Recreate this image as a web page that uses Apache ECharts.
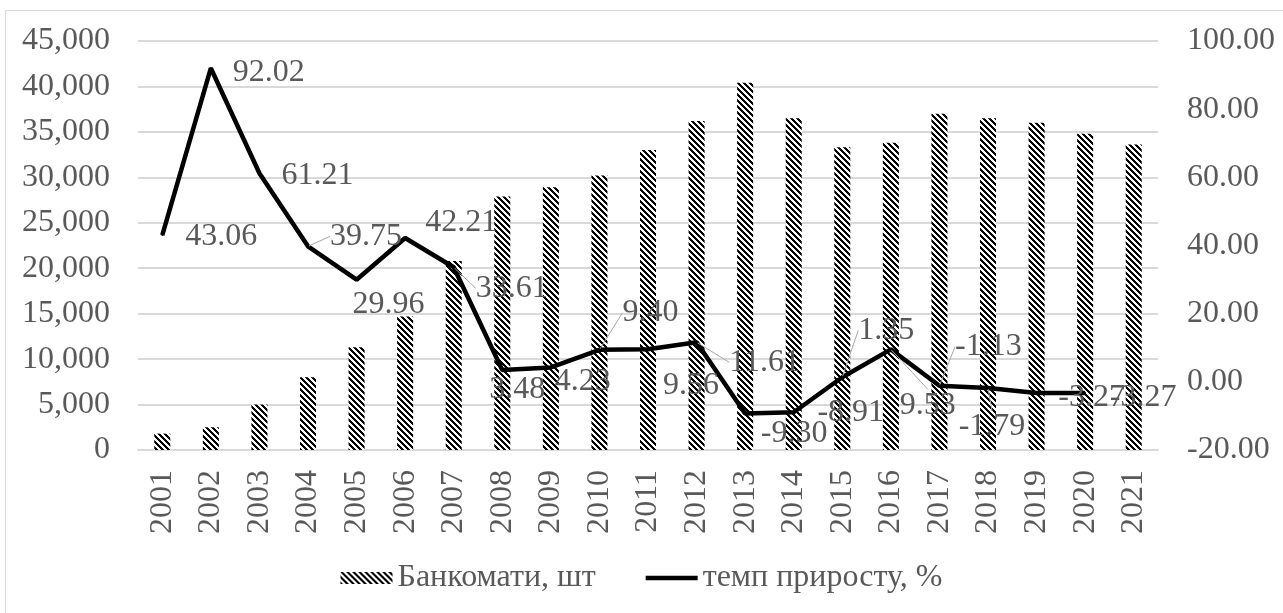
<!DOCTYPE html>
<html>
<head>
<meta charset="utf-8">
<script src="https://cdn.jsdelivr.net/npm/echarts@6/dist/echarts.min.js"></script>
<style>
html,body{margin:0;padding:0;background:#fff;}
#chart{width:1283px;height:613px;}
</style>
</head>
<body>
<div id="chart"></div>
<script>
// ---- data ----
const years = ['2001','2002','2003','2004','2005','2006','2007','2008','2009','2010','2011','2012','2013','2014','2015','2016','2017','2018','2019','2020','2021'];
const atms = [1800, 2500, 5000, 8000, 11300, 14700, 20800, 27900, 28900, 30200, 33000, 36200, 40400, 36500, 33300, 33800, 37000, 36500, 36000, 34800, 33600];
const growth = [43.06, 92.02, 61.21, 39.75, 29.96, 42.21, 33.61, 3.48, 4.23, 9.40, 9.56, 11.61, -9.30, -8.91, 1.35, 9.53, -1.13, -1.79, -3.27, -3.27, null];
const leftTicks = {min: 0, max: 45000, interval: 5000};
const rightTicks = {min: -20, max: 100, interval: 20};
const seriesNames = ['Банкомати, шт', 'темп приросту, %'];

// ---- label layout (pixel offsets of label centres from points) ----
const labelDX = [59, 58, 58, 58, 32, 56, 58, 15, 32, 51, 43, 68, 49, 57, 44, 37, 49, 4, 55, 58, 0];
const labelDY = [2, 4, 2, -10, 25, -15, 21, 20, 14, -37, 36, 20, 20, 0, -47, 56, -39, 39, 5, 5, 0];
const leader = [false,false,false,true,false,false,true,false,false,true,false,true,false,false,true,true,true,true,false,false,false];

// ---- hatch pattern ----
function makeHatch() {
  const n = 6;
  const c = document.createElement('canvas');
  c.width = n; c.height = n;
  const ctx = c.getContext('2d');
  const img = ctx.createImageData(n, n);
  for (let y = 0; y < n; y++) {
    for (let x = 0; x < n; x++) {
      const k = ((x - y) % n + n) % n;
      const v = k < 3 ? 0 : 255;
      const p = (y * n + x) * 4;
      img.data[p] = v; img.data[p+1] = v; img.data[p+2] = v; img.data[p+3] = 255;
    }
  }
  ctx.putImageData(img, 0, 0);
  return c;
}
const hatch = {image: makeHatch(), repeat: 'repeat'};

const font = 'Liberation Serif';
const fs = 32;
const txt = '#595959';
const gridColor = '#d9d9d9';

const chart = echarts.init(document.getElementById('chart'));
chart.setOption({
  backgroundColor: '#fff',
  animation: false,
  textStyle: {fontFamily: font},
  graphic: [{
    type: 'rect', silent: true, z: -10,
    shape: {x: 5.5, y: 10.5, width: 1400, height: 800},
    style: {fill: 'none', stroke: gridColor, lineWidth: 1}
  }],
  grid: {left: 138, right: 125, top: 41, bottom: 163, containLabel: false},
  legend: {
    bottom: 14, left: 'center',
    itemWidth: 52, itemHeight: 12, itemGap: 50,
    symbolKeepAspect: true,
    textStyle: {fontFamily: font, fontSize: fs, color: txt},
    data: [
      {name: seriesNames[0], icon: 'rect'},
      {name: seriesNames[1], icon: 'path://M0,0L55,0L55,5L0,5Z'}
    ]
  },
  xAxis: {
    type: 'category', data: years,
    axisLine: {show: true, lineStyle: {color: gridColor, width: 2}},
    axisTick: {show: false},
    axisLabel: {rotate: 90, fontFamily: font, fontSize: fs, color: txt, margin: 20}
  },
  yAxis: [{
    type: 'value', min: leftTicks.min, max: leftTicks.max, interval: leftTicks.interval,
    axisLine: {show: false}, axisTick: {show: false},
    splitLine: {lineStyle: {color: gridColor, width: 2}},
    axisLabel: {fontFamily: font, fontSize: fs, color: txt, margin: 28,
      formatter: v => v.toLocaleString('en-US')}
  }, {
    type: 'value', min: rightTicks.min, max: rightTicks.max, interval: rightTicks.interval,
    axisLine: {show: false}, axisTick: {show: false},
    splitLine: {show: false},
    axisLabel: {fontFamily: font, fontSize: fs, color: txt, margin: 29,
      formatter: v => v.toFixed(2)}
  }],
  series: [{
    name: seriesNames[0], type: 'bar', yAxisIndex: 0,
    data: atms, barWidth: 16,
    itemStyle: {color: hatch}
  }, {
    name: seriesNames[1], type: 'line', yAxisIndex: 1,
    data: growth.map((v, i) => ({value: v, labelLine: {show: leader[i]}})),
    symbol: 'circle', symbolSize: 2, showSymbol: true,
    itemStyle: {color: '#000'},
    lineStyle: {color: '#000', width: 4.5},
    z: 5,
    label: {
      show: true, position: 'inside',
      fontFamily: font, fontSize: fs, color: txt,
      formatter: p => p.value == null ? '' : Number(p.value).toFixed(2)
    },
    labelLine: {show: false, lineStyle: {color: '#a6a6a6', width: 1}},
    labelLayout: function (params) {
      const i = params.dataIndex;
      const r = params.rect;
      return {
        x: r.x + r.width / 2 + labelDX[i],
        y: r.y + r.height / 2 + labelDY[i],
        align: 'center', verticalAlign: 'middle'
      };
    }
  }]
});
</script>
</body>
</html>
